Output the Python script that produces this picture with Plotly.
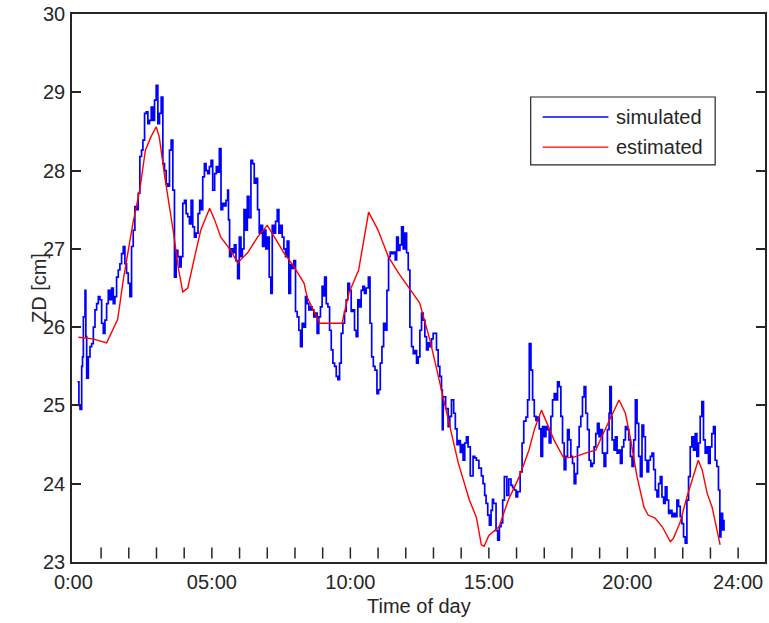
import plotly.graph_objects as go

# ---- data (hours of day, ZD in cm) ----
sim_t = [0.15,0.2,0.24,0.3,0.33,0.36,0.42,0.45,0.48,0.54,0.6,0.66,0.72,0.78,0.84,0.9,0.96,1.02,1.08,1.14,
         1.2,1.26,1.32,1.38,1.44,1.5,1.56,1.62,1.68,1.74,1.8,1.86,1.92,1.98,2.04,2.1,2.16,2.22,2.28,2.34,
         2.4,2.46,2.51,2.57,2.63,2.69,2.75,2.81,2.87,2.93,2.99,3.05,3.11,3.17,3.23,3.29,3.35,3.41,3.47,3.53,
         3.59,3.65,3.71,3.77,3.83,3.89,3.95,4.01,4.07,4.13,4.19,4.25,4.31,4.37,4.43,4.5,4.56,4.62,4.67,4.73,
         4.79,4.85,4.91,4.97,5.03,5.1,5.16,5.21,5.27,5.33,5.39,5.45,5.51,5.57,5.6,5.64,5.7,5.75,5.81,5.87,
         5.93,5.99,6.05,6.1,6.16,6.22,6.28,6.34,6.41,6.47,6.53,6.59,6.65,6.71,6.77,6.83,6.89,6.95,7.01,7.07,
         7.13,7.18,7.24,7.3,7.36,7.42,7.48,7.54,7.6,7.66,7.72,7.78,7.84,7.9,7.96,8.02,8.08,8.14,8.2,8.26,
         8.32,8.38,8.44,8.5,8.56,8.62,8.68,8.74,8.8,8.86,8.92,8.98,9.04,9.07,9.13,9.19,9.25,9.31,9.37,9.43,
         9.49,9.55,9.61,9.67,9.73,9.79,9.85,9.91,9.97,10.03,10.09,10.15,10.21,10.27,10.33,10.39,10.45,10.51,10.57,10.65,
         10.71,10.77,10.83,10.89,10.96,11.02,11.08,11.14,11.2,11.26,11.32,11.38,11.44,11.5,11.56,11.62,11.67,11.73,11.79,11.85,
         11.91,11.97,12.03,12.09,12.15,12.21,12.27,12.33,12.39,12.45,12.51,12.57,12.63,12.69,12.75,12.81,12.87,12.93,12.99,13.05,
         13.11,13.17,13.23,13.29,13.32,13.35,13.44,13.53,13.59,13.65,13.73,13.79,13.85,13.91,13.97,14.02,14.07,14.13,14.19,14.25,
         14.33,14.43,14.49,14.55,14.64,14.73,14.79,14.85,14.9,14.96,15.02,15.08,15.13,15.17,15.26,15.32,15.38,15.44,15.5,15.56,
         15.65,15.72,15.8,15.86,15.92,15.98,16.04,16.13,16.2,16.26,16.34,16.4,16.46,16.52,16.58,16.64,16.7,16.76,16.82,16.88,
         16.94,17.0,17.06,17.12,17.18,17.24,17.3,17.36,17.42,17.48,17.54,17.6,17.66,17.72,17.78,17.84,17.9,17.96,18.02,18.08,
         18.14,18.2,18.26,18.32,18.38,18.44,18.5,18.56,18.62,18.68,18.74,18.8,18.86,18.92,18.98,19.04,19.1,19.16,19.22,19.28,
         19.34,19.37,19.42,19.45,19.52,19.57,19.63,19.69,19.75,19.81,19.87,19.93,19.99,20.05,20.11,20.17,20.23,20.29,20.35,20.41,
         20.47,20.53,20.59,20.65,20.71,20.77,20.83,20.89,20.95,21.01,21.07,21.13,21.19,21.25,21.31,21.37,21.43,21.49,21.55,21.61,
         21.67,21.73,21.79,21.85,21.91,21.97,22.03,22.09,22.15,22.21,22.27,22.33,22.39,22.45,22.51,22.57,22.63,22.69,22.75,22.81,
         22.87,22.93,22.99,23.05,23.11,23.17,23.23,23.29,23.34,23.38,23.44,23.49]
sim_v = [25.3,25.0,24.95,25.5,25.62,26.13,26.47,25.88,25.35,25.62,25.75,25.79,26.0,26.22,26.3,26.39,26.35,26.05,25.92,26.09,
         26.3,26.47,26.35,26.5,26.3,26.39,26.64,26.73,26.81,26.94,27.03,26.81,26.69,26.56,26.39,27.03,27.24,27.54,27.5,27.71,
         28.18,28.26,28.39,28.73,28.75,28.6,28.64,28.81,28.64,28.9,29.09,28.6,28.73,28.94,28.09,28.0,27.83,27.8,28.26,28.39,
         27.75,26.64,26.98,26.9,26.77,26.9,27.58,27.62,27.45,27.41,27.32,27.62,27.28,27.15,27.2,27.45,27.62,27.5,27.92,28.09,
         28.0,27.96,28.05,28.13,27.75,27.96,28.05,27.98,28.28,27.5,27.58,27.55,27.62,27.75,27.37,26.9,27.0,26.95,27.05,26.85,
         26.62,27.15,26.9,27.0,27.5,27.24,27.67,27.4,28.13,28.09,27.84,27.9,27.5,27.2,27.3,27.03,27.24,27.0,27.15,26.64,
         26.43,27.3,27.2,27.35,27.5,27.2,27.3,27.15,27.0,26.9,27.1,26.43,26.8,26.75,26.85,26.2,26.13,25.96,25.75,26.05,
         26.0,26.39,26.3,26.22,26.26,26.22,26.13,26.18,25.92,26.13,26.26,26.52,26.4,26.64,26.3,26.26,25.96,25.71,25.54,25.5,
         25.37,25.33,25.54,25.92,26.05,26.2,26.35,26.56,26.47,26.2,26.22,25.96,25.88,26.35,26.26,26.47,26.52,26.43,26.5,26.64,
         26.05,25.62,25.5,25.45,25.15,25.2,25.54,25.75,26.05,25.96,26.47,26.9,26.96,26.94,26.96,26.86,27.15,26.98,27.05,27.28,
         27.0,27.2,26.95,26.73,26.0,25.75,25.66,25.7,25.54,25.62,25.96,26.18,26.09,25.88,25.71,25.8,25.75,25.85,25.92,25.92,
         25.71,25.5,25.37,25.2,24.69,25.11,24.96,24.73,24.86,25.07,24.9,24.7,24.5,24.55,24.4,24.5,24.3,24.52,24.6,24.47,
         24.1,24.35,24.33,24.3,24.2,24.1,24.0,23.85,23.75,23.6,23.47,23.66,23.8,23.75,23.4,23.28,23.45,23.5,23.79,24.09,
         23.85,24.06,23.98,23.95,23.92,23.83,23.9,24.15,24.52,24.8,24.85,25.07,25.79,25.45,25.07,24.86,24.81,24.85,24.7,24.35,
         24.73,24.6,24.73,24.69,24.52,24.86,25.07,25.15,25.07,25.3,25.24,24.86,24.52,24.18,24.35,24.69,24.56,24.35,24.26,24.0,
         24.13,24.47,24.73,24.86,25.11,25.24,24.9,24.69,24.3,24.22,24.26,24.47,24.64,24.77,24.6,24.69,24.39,24.22,24.39,24.69,
         24.9,25.24,24.86,24.56,24.43,24.6,24.39,24.43,24.26,24.47,24.56,24.73,24.69,24.56,24.35,24.22,24.56,25.07,24.77,24.35,
         24.09,24.75,24.6,24.3,24.15,24.3,24.35,24.39,24.18,23.92,23.83,24.0,24.09,23.83,23.75,23.96,23.79,23.62,23.66,23.58,
         23.62,23.58,23.79,23.71,23.58,23.49,23.32,23.24,23.79,24.09,24.47,24.6,24.43,24.64,24.35,24.52,24.86,25.05,24.56,24.39,
         24.47,24.26,24.47,24.64,24.73,24.3,24.22,23.92,23.32,23.62,23.41,23.54]

est_t = [0.18,0.7,1.2,1.6,1.8,2.15,2.4,2.6,2.8,2.99,3.1,3.3,3.6,3.8,3.95,4.13,4.38,4.6,4.92,5.1,
         5.32,5.68,5.93,6.29,6.65,7.0,7.26,7.6,7.97,8.33,8.44,8.6,8.9,9.7,9.94,10.3,10.48,10.66,11.0,11.37,
         11.74,12.1,12.5,12.87,13.2,13.6,13.9,14.3,14.55,14.73,14.83,15.0,15.37,15.7,16.1,16.45,16.65,16.9,17.1,17.35,
         17.7,18.07,18.57,18.86,19.1,19.4,19.7,19.93,20.1,20.35,20.6,20.75,21.0,21.26,21.55,21.66,21.9,22.15,22.38,22.56,
         22.7,22.88,23.06,23.24,23.35]
est_v = [25.87,25.85,25.8,26.1,26.6,27.33,27.76,28.26,28.43,28.56,28.43,27.92,27.24,26.73,26.45,26.5,26.9,27.24,27.52,27.37,
         27.15,26.98,26.82,26.95,27.15,27.3,27.15,26.95,26.77,26.56,26.38,26.26,26.05,26.05,26.43,26.73,27.11,27.47,27.24,26.9,
         26.69,26.51,26.31,25.84,25.32,24.69,24.26,23.79,23.57,23.22,23.2,23.34,23.45,23.79,24.09,24.43,24.7,24.94,24.77,24.56,
         24.33,24.34,24.4,24.43,24.62,24.85,25.07,24.9,24.6,24.09,23.7,23.6,23.56,23.45,23.26,23.3,23.5,23.83,24.09,24.3,
         24.18,23.88,23.7,23.41,23.22]

hour_marks = list(range(1, 25))
x_tick_vals = [0, 5, 10, 15, 20, 24]
x_tick_text = ["0:00", "05:00", "10:00", "15:00", "20:00", "24:00"]
y_tick_vals = [23, 24, 25, 26, 27, 28, 29, 30]
series_names = ["simulated", "estimated"]

FONT = "Liberation Sans"
AX = "#262626"

fig = go.Figure()
fig.add_trace(go.Scatter(x=sim_t, y=sim_v, mode="lines", name=series_names[0], line_shape="hv",
                         line=dict(color="#0000FF", width=1.7), showlegend=False))
fig.add_trace(go.Scatter(x=est_t, y=est_v, mode="lines", name=series_names[1],
                         line=dict(color="#FF0000", width=1.4), showlegend=False))
# hourly marks just above the bottom axis
fig.add_trace(go.Scatter(x=hour_marks, y=[23.115] * len(hour_marks), mode="markers",
                         marker=dict(symbol="line-ns-open", size=8, color=AX,
                                     line=dict(color=AX, width=1.5)),
                         showlegend=False, hoverinfo="skip"))

fig.update_layout(
    width=769, height=623,
    margin=dict(l=72, r=2, t=14, b=61),
    paper_bgcolor="white", plot_bgcolor="white",
    font=dict(family=FONT, size=20, color=AX),
    xaxis=dict(range=[-0.05, 24.97], tickvals=x_tick_vals, ticktext=x_tick_text,
               showgrid=False, zeroline=False, showline=True, linecolor=AX, linewidth=1.5,
               mirror=True, ticks="", ticklabelstandoff=1,
               tickfont=dict(family=FONT, size=20, color=AX)),
    yaxis=dict(range=[23, 30], tickvals=y_tick_vals, showgrid=False, zeroline=False,
               showline=True, linecolor=AX, linewidth=1.5, mirror="ticks",
               ticks="inside", ticklen=9, tickwidth=1.5, tickcolor=AX, ticklabelstandoff=1,
               tickfont=dict(family=FONT, size=20, color=AX)),
)

# axis titles
fig.add_annotation(text="Time of day", xref="paper", yref="paper", x=0.5, y=-0.080,
                   xanchor="center", yanchor="middle", showarrow=False,
                   font=dict(family=FONT, size=20, color=AX))
fig.add_annotation(text="ZD [cm]", xref="paper", yref="paper", x=-0.0475, y=0.5,
                   xanchor="center", yanchor="middle", textangle=-90, showarrow=False,
                   font=dict(family=FONT, size=20, color=AX))

# legend box (MATLAB style)
fig.add_shape(type="rect", xref="paper", yref="paper", x0=0.6619, x1=0.9281, y0=0.7245, y1=0.8485,
              line=dict(color=AX, width=1.2), fillcolor="white", layer="above")
leg_colors = ["#0000FF", "#FF0000"]
leg_y = [0.8120, 0.7570]
for name, col, yy in zip(series_names, leg_colors, leg_y):
    fig.add_shape(type="line", xref="paper", yref="paper", x0=0.6791, x1=0.7741, y0=yy, y1=yy,
                  line=dict(color=col, width=1.4), layer="above")
    fig.add_annotation(text=name, xref="paper", yref="paper", x=0.7827, y=yy,
                       xanchor="left", yanchor="middle", showarrow=False,
                       font=dict(family=FONT, size=20, color=AX))

fig.write_html("out.html")
